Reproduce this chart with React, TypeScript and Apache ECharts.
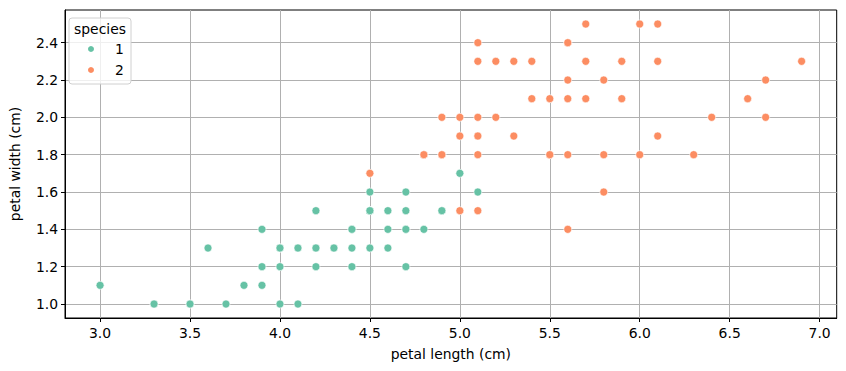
import React, { useEffect, useRef } from "react";
import * as echarts from "echarts";

const versicolorLength = [4.7,4.5,4.9,4.0,4.6,4.5,4.7,3.3,4.6,3.9,3.5,4.2,4.0,4.7,3.6,4.4,4.5,4.1,4.5,3.9,4.8,4.0,4.9,4.7,4.3,4.4,4.8,5.0,4.5,3.5,3.8,3.7,3.9,5.1,4.5,4.5,4.7,4.4,4.1,4.0,4.4,4.6,4.0,3.3,4.2,4.2,4.2,4.3,3.0,4.1];
const versicolorWidth = [1.4,1.5,1.5,1.3,1.5,1.3,1.6,1.0,1.3,1.4,1.0,1.5,1.0,1.4,1.3,1.4,1.5,1.0,1.5,1.1,1.8,1.3,1.5,1.2,1.3,1.4,1.4,1.7,1.5,1.0,1.1,1.0,1.2,1.6,1.5,1.6,1.5,1.3,1.3,1.3,1.2,1.4,1.2,1.0,1.3,1.2,1.3,1.3,1.1,1.3];
const virginicaLength = [6.0,5.1,5.9,5.6,5.8,6.6,4.5,6.3,5.8,6.1,5.1,5.3,5.5,5.0,5.1,5.3,5.5,6.7,6.9,5.0,5.7,4.9,6.7,4.9,5.7,6.0,4.8,4.9,5.6,5.8,6.1,6.4,5.6,5.1,5.6,6.1,5.6,5.5,4.8,5.4,5.6,5.1,5.1,5.9,5.7,5.2,5.0,5.2,5.4,5.1];
const virginicaWidth = [2.5,1.9,2.1,1.8,2.2,2.1,1.7,1.8,1.8,2.5,2.0,1.9,2.1,2.0,2.4,2.3,1.8,2.2,2.3,1.5,2.3,2.0,2.0,1.8,2.1,1.8,1.8,1.8,2.1,1.6,1.9,2.0,2.2,1.5,1.4,2.3,2.4,1.8,1.8,2.1,2.4,2.3,1.9,2.3,2.5,2.3,1.9,2.0,2.3,1.8];
const speciesNames = ["1", "2"];
const xTicks = [3.0, 3.5, 4.0, 4.5, 5.0, 5.5, 6.0, 6.5, 7.0];
const yTicks = [1.0, 1.2, 1.4, 1.6, 1.8, 2.0, 2.2, 2.4];

const FONT = "DejaVu Sans";
const FS = 13.9;

export default function App() {
  const ref = useRef<HTMLDivElement>(null);
  useEffect(() => {
    if (!ref.current) return;
    const chart = echarts.init(ref.current, undefined, { renderer: "svg" });
    const zip = (a: number[], b: number[]) => a.map((v, i) => [v, b[i]]);
    const axisCommon = {
      axisLine: { show: true, onZero: false, lineStyle: { color: "#000", width: 1 } },
      axisTick: { show: true, inside: false, length: 4, lineStyle: { color: "#000", width: 1 } },
      axisLabel: { color: "#000", fontFamily: FONT, fontSize: FS },
      splitLine: { show: true, lineStyle: { color: "#b0b0b0", width: 1 } },
      nameTextStyle: { color: "#000", fontFamily: FONT, fontSize: FS },
    };
    chart.setOption({
      animation: false,
      backgroundColor: "#fff",
      grid: { left: 61.5, top: 10, right: 9.3, bottom: 53, show: true, borderColor: "#000", borderWidth: 1, backgroundColor: "transparent" },
      xAxis: {
        type: "value",
        min: 2.805,
        max: 7.095,
        name: "petal length (cm)",
        nameLocation: "middle",
        nameGap: 29,
        ...axisCommon,
        axisTick: { ...axisCommon.axisTick, customValues: xTicks },
        axisLabel: { ...axisCommon.axisLabel, customValues: xTicks, margin: 8, formatter: (v: number) => v.toFixed(1) },
      },
      yAxis: {
        type: "value",
        min: 0.925,
        max: 2.575,
        name: "petal width (cm)",
        nameLocation: "middle",
        nameGap: 43,
        ...axisCommon,
        axisTick: { ...axisCommon.axisTick, customValues: yTicks },
        axisLabel: { ...axisCommon.axisLabel, customValues: yTicks, margin: 7, formatter: (v: number) => v.toFixed(1) },
      },
      legend: {
        show: true,
        z: 100,
        orient: "vertical",
        left: 81,
        top: 37,
        icon: "circle",
        itemWidth: 8,
        itemHeight: 8,
        itemGap: 7,
        data: speciesNames,
        textStyle: { color: "#000", fontFamily: FONT, fontSize: FS, lineHeight: 14, padding: [0, 0, 0, 15] },
      },
      graphic: [
        {
          type: "rect",
          z: 90,
          shape: { x: 69, y: 18, width: 62, height: 66, r: 3 },
          style: { fill: "rgba(255,255,255,0.8)", stroke: "#d0d0d0", lineWidth: 1 },
        },
        {
          type: "text",
          z: 91,
          x: 100,
          y: 29,
          style: { text: "species", fill: "#000", font: `${FS}px ${FONT}`, align: "center", verticalAlign: "middle" },
        },
      ],
      series: [
        {
          name: speciesNames[0],
          type: "scatter",
          data: zip(versicolorLength, versicolorWidth),
          symbolSize: 8,
          itemStyle: { color: "#66c2a5", borderColor: "#fff", borderWidth: 0.6, opacity: 1 },
          z: 3,
        },
        {
          name: speciesNames[1],
          type: "scatter",
          data: zip(virginicaLength, virginicaWidth),
          symbolSize: 8,
          itemStyle: { color: "#fc8d62", borderColor: "#fff", borderWidth: 0.6, opacity: 1 },
          z: 4,
        },
      ],
    });
    return () => chart.dispose();
  }, []);
  return <div ref={ref} style={{ width: 846, height: 371, position: "absolute", left: 0, top: 0 }} />;
}
